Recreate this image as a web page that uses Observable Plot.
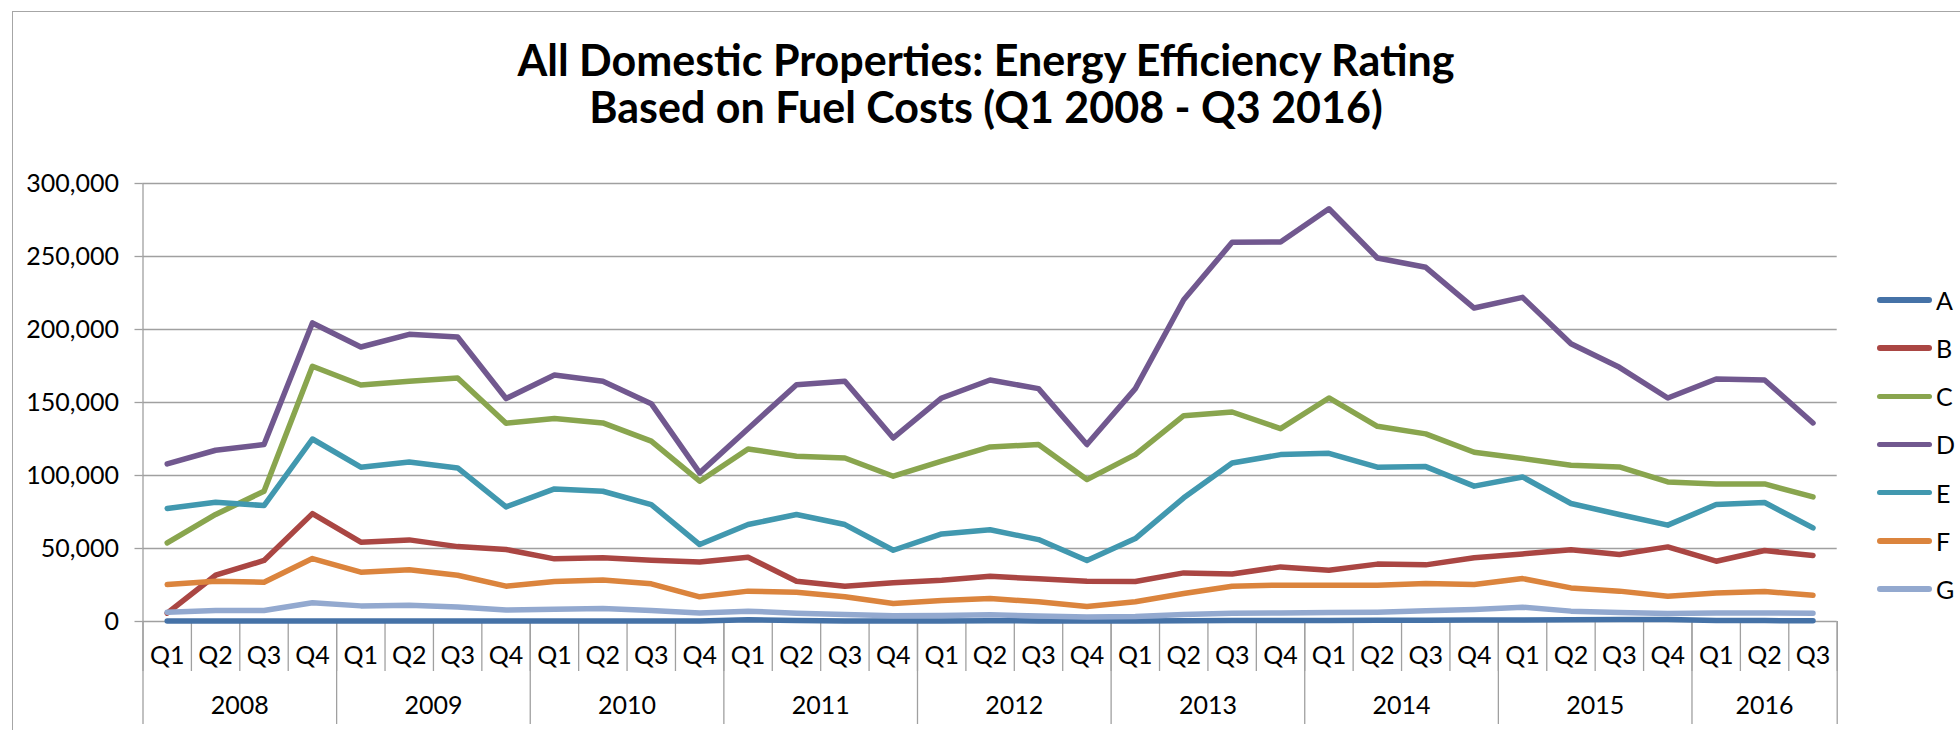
<!DOCTYPE html>
<html>
<head>
<meta charset="utf-8">
<script src="https://cdn.jsdelivr.net/npm/d3@7"></script>
<script src="https://cdn.jsdelivr.net/npm/@observablehq/plot@0.6"></script>
<style>
  body { margin: 0; background: #fff; font-family: Lato, "Open Sans", sans-serif; }
  #wrap { position: relative; width: 1960px; height: 730px; overflow: hidden; background: #fff; }
  #frame { position: absolute; left: 12px; top: 11px; width: 2100px; height: 900px;
           border-left: 1.5px solid #a6a6a6; border-top: 1.5px solid #a6a6a6; }
  #title { position: absolute; left: 6px; width: 1960px; top: 36px; text-align: center;
           font-weight: 700; font-size: 43px; line-height: 47px; color: #000; }
  #chart { position: absolute; left: 0; top: 150px; }
  .leg { position: absolute; height: 26px; display: flex; align-items: center; font-size: 25px; color: #000; }
  .leg span.sw { display: inline-block; width: 55px; height: 5.5px; border-radius: 3px; margin-right: 4px; }
</style>
</head>
<body>
<div id="wrap">
  <div id="frame"></div>
  <div id="title">All Domestic Properties: Energy Efficiency Rating<br>Based on Fuel Costs (Q1 2008 - Q3 2016)</div>
  <div id="chart"></div>
  <div id="legend"></div>
</div>
<script>
// ---- Data ----
const years = ["2008","2009","2010","2011","2012","2013","2014","2015","2016"];
const quarterLabels = ["Q1","Q2","Q3","Q4","Q1","Q2","Q3","Q4","Q1","Q2","Q3","Q4","Q1","Q2","Q3","Q4",
  "Q1","Q2","Q3","Q4","Q1","Q2","Q3","Q4","Q1","Q2","Q3","Q4","Q1","Q2","Q3","Q4","Q1","Q2","Q3"];
const quarterYears = ["2008","2008","2008","2008","2009","2009","2009","2009","2010","2010","2010","2010",
  "2011","2011","2011","2011","2012","2012","2012","2012","2013","2013","2013","2013",
  "2014","2014","2014","2014","2015","2015","2015","2015","2016","2016","2016"];
const seriesNames = ["A","B","C","D","E","F","G"];
const seriesColors = ["#4572A7","#AA4643","#89A54E","#71588F","#4198AF","#DB843D","#93A9CF"];
const yTicks = [0, 50000, 100000, 150000, 200000, 250000, 300000];

const A = [300,300,300,400,300,300,300,300,300,300,300,400,1200,600,400,300,400,500,400,300,
           400,500,600,700,700,800,900,1000,1100,1200,1300,1400,700,600,500];
const B = [5700,31700,41800,73900,54300,55900,51300,49300,42900,43600,42000,40800,44000,27600,24200,26500,
           28300,31000,29200,27600,27400,33300,32600,37400,35100,39300,38800,43600,46300,49100,45900,51100,
           41300,48600,45200];
const C = [53900,73300,89200,174800,162000,164500,166800,135800,139000,136000,123500,96100,118200,113200,112000,99500,
           109800,119600,121200,97200,114300,141000,143500,132100,153100,133700,128500,115900,111600,107000,105900,95600,
           94200,94200,85300];
const D = [107900,117300,121200,204500,188000,196700,194900,152700,168900,164500,149200,101800,132000,162200,164500,125700,
           153100,165400,159500,121200,159500,220400,259700,259900,282700,249000,242600,214700,222000,190300,174100,153100,
           166100,165400,136000];
const E = [77400,81700,79400,125000,105700,109300,105200,78500,90800,89200,80100,52700,66400,73300,66400,48800,
           60000,62800,56100,41800,56800,84700,108600,114300,115200,105700,106100,92700,99000,80800,73300,66000,
           80100,81500,64100];
const F = [25300,27600,26900,43100,33800,35400,31700,24200,27400,28500,25800,16900,20800,20100,16900,12300,
           14400,15700,13500,10300,13500,19200,24200,24900,24900,24900,26000,25300,29400,23000,20800,17300,
           19600,20500,18000];
const G = [6400,7500,7500,12800,10700,11200,10000,7800,8400,8900,7500,5900,7100,5700,4800,3900,
           4100,4600,3700,3000,3400,4800,5700,5900,6200,6400,7300,8200,9800,7100,6200,5500,
           5900,5900,5700];

// ---- Build table ----
const seriesValues = [A, B, C, D, E, F, G];
const rows = seriesNames.flatMap((name, s) => seriesValues[s].map((v, i) => ({name, i, v})));
const idx = d3.range(quarterLabels.length);
const quarterBounds = d3.range(quarterLabels.length + 1).map(i => i - 0.5);
const yearBounds = [-0.5];
const yearCenters = [];
years.forEach(y => {
  const ii = idx.filter(i => quarterYears[i] === y);
  yearCenters.push(d3.mean(ii));
  yearBounds.push(d3.max(ii) + 0.5);
});

const gray = "#a0a0a0";
const chart = Plot.plot({
  width: 1960,
  height: 580,
  marginTop: 33,
  marginBottom: 109,
  marginLeft: 142.5,
  marginRight: 123.3,
  style: {fontFamily: "Lato, 'Open Sans', sans-serif", fontSize: "25px", color: "#000", background: "transparent", overflow: "visible"},
  x: {type: "linear", domain: [-0.5, quarterLabels.length - 0.5], axis: null, label: null},
  y: {domain: [0, 300000], axis: null, label: null},
  color: {domain: seriesNames, range: seriesColors},
  marks: [
    Plot.gridY(yTicks, {stroke: gray, strokeOpacity: 1, strokeWidth: 1.3}),
    Plot.axisY({ticks: yTicks, label: null, tickSize: 8, tickPadding: 16, tickFormat: d3.format(","), stroke: gray, strokeWidth: 1.3, fill: "#000"}),
    Plot.ruleX([-0.5], {stroke: gray, strokeWidth: 1.3}),
    Plot.axisX({ticks: quarterBounds, label: null, tickSize: 50, tickFormat: () => "", stroke: gray, strokeWidth: 1.3}),
    Plot.axisX({ticks: yearBounds, label: null, tickSize: 103, tickFormat: () => "", stroke: gray, strokeWidth: 1.3}),
    Plot.axisX({ticks: idx, label: null, tickSize: 0, tickPadding: 25, tickFormat: i => quarterLabels[i], fill: "#000"}),
    Plot.axisX({ticks: yearCenters, label: null, tickSize: 0, tickPadding: 75, tickFormat: (d, k) => years[k], fill: "#000"}),
    Plot.line(rows, {x: "i", y: "v", z: "name", stroke: "name", strokeWidth: 5.5,
                     strokeLinejoin: "round", strokeLinecap: "round"})
  ]
});
document.getElementById("chart").appendChild(chart);

// ---- Legend ----
const legend = document.getElementById("legend");
seriesNames.forEach((name, k) => {
  const d = document.createElement("div");
  d.className = "leg";
  d.style.left = "1877px";
  d.style.top = (300 + k * 48.15 - 13) + "px";
  d.innerHTML = `<span class="sw" style="background:${seriesColors[k]}"></span><span>${name}</span>`;
  legend.appendChild(d);
});
</script>
</body>
</html>
